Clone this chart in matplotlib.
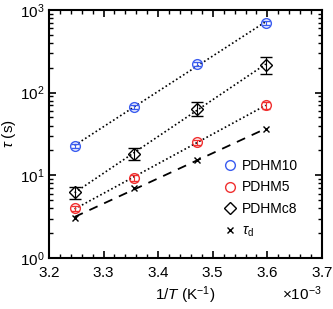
import numpy as np
import matplotlib
matplotlib.use("Agg")
import matplotlib.pyplot as plt
from matplotlib.lines import Line2D
from matplotlib.ticker import MultipleLocator, LogLocator, NullFormatter, ScalarFormatter

plt.rcParams['font.family'] = ['Liberation Sans', 'DejaVu Sans']
plt.rcParams['mathtext.fontset'] = 'custom'
plt.rcParams['mathtext.rm'] = 'Liberation Sans'
plt.rcParams['mathtext.it'] = 'Liberation Sans:italic'

invT = np.array([3.247, 3.356, 3.472, 3.597]) * 1e-3
pdhm10 = np.array([22.6, 67, 222, 696])
pdhm10_err = np.array([1.5, 4, 12, 35])
pdhm5 = np.array([4.0, 9.3, 25, 71])
pdhm5_err = np.array([0.3, 0.7, 1.8, 7])
pdhmc8 = np.array([6.2, 18.3, 64, 218])
pdhmc8_err = np.array([1.0, 3.0, 12, 50])
tau_d = np.array([3.05, 7.0, 15.4, 36])

labels = ["PDHM10", "PDHM5", "PDHMc8", r"$\tau_\mathrm{d}$"]

fig = plt.figure(figsize=(3.33, 3.09), dpi=100)
ax = fig.add_axes([0.147, 0.165, 0.82, 0.803])

blue = '#3a5cf0'
red = '#f03030'

def fit(x, y):
    p = np.polyfit(x, np.log10(y), 1)
    xx = np.linspace(x.min(), x.max(), 50)
    return xx, 10 ** np.polyval(p, xx)

for y in (pdhm10, pdhm5, pdhmc8):
    xx, yy = fit(invT, y)
    ax.plot(xx, yy, color='k', ls=(0, (1, 1.5)), lw=1.2, zorder=1)
xx, yy = fit(invT, tau_d)
ax.plot(xx, yy, color='k', ls=(0, (5, 4)), lw=1.3, zorder=1)

ax.errorbar(invT, pdhm10, yerr=pdhm10_err, fmt='o', mfc='none', mec=blue, ecolor=blue,
            ms=7, mew=1.0, capsize=3, elinewidth=0.8, zorder=3)
ax.errorbar(invT, pdhm5, yerr=pdhm5_err, fmt='o', mfc='none', mec=red, ecolor=red,
            ms=7, mew=1.0, capsize=3, elinewidth=0.8, zorder=3)
ax.errorbar(invT, pdhmc8, yerr=pdhmc8_err, fmt='D', mfc='none', mec='k', ecolor='k',
            ms=6, mew=1.0, capsize=4, elinewidth=0.8, zorder=3)
ax.plot(invT, tau_d, 'x', color='k', ms=5, mew=1.0, zorder=3)

ax.set_yscale('log')
ax.set_xlim(3.2e-3, 3.7e-3)
ax.set_ylim(1, 1000)
ax.xaxis.set_major_locator(MultipleLocator(0.1e-3))
ax.xaxis.set_minor_locator(MultipleLocator(0.02e-3))
fmt = ScalarFormatter(useMathText=True)
fmt.set_powerlimits((-2, 2))
ax.xaxis.set_major_formatter(fmt)
ax.yaxis.set_major_locator(LogLocator(base=10, numticks=10))
ax.yaxis.set_minor_locator(LogLocator(base=10, subs=np.arange(2, 10), numticks=10))
ax.yaxis.set_minor_formatter(NullFormatter())

ax.tick_params(which='both', direction='in', top=True, right=True, labelsize=11)
ax.tick_params(which='major', length=5, width=1.2)
ax.tick_params(axis='x', which='major', pad=6)
ax.tick_params(which='minor', length=3, width=1.0)
for s in ax.spines.values():
    s.set_linewidth(1.5)
ax.xaxis.get_offset_text().set_fontsize(11)

ax.set_xlabel(r"1/$T$ (K$^{-1}$)", fontsize=11, labelpad=3)
ax.set_ylabel(r"$\tau$ (s)", fontsize=11, labelpad=1)

handles = [
    Line2D([], [], ls='none', marker='o', mfc='none', mec=blue, ms=7, mew=1.0),
    Line2D([], [], ls='none', marker='o', mfc='none', mec=red, ms=7, mew=1.0),
    Line2D([], [], ls='none', marker='D', mfc='none', mec='k', ms=6, mew=1.0),
    Line2D([], [], ls='none', marker='x', color='k', ms=5, mew=1.0),
]
ax.legend(handles, labels, loc='upper left', frameon=False, fontsize=10, handletextpad=0.3,
          handlelength=1.2, labelspacing=0.55, bbox_to_anchor=(0.585, 0.45))

fig.savefig("out.png", dpi=100)
